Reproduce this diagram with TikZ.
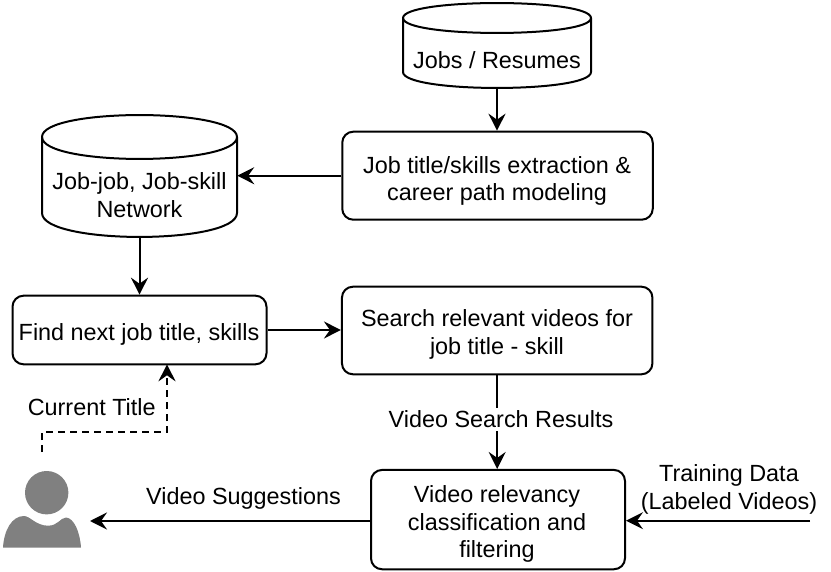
\documentclass[tikz,border=0pt]{standalone}
\usepackage{fontspec}
\setmainfont{Liberation Sans}
\usetikzlibrary{arrows.meta}
\definecolor{persongray}{RGB}{128,128,128}
\tikzset{
  x=1pt,y=-1pt,
  every node/.style={font=\fontsize{23.4}{27.4}\selectfont,text=black,align=center,inner sep=0pt},
  flowbox/.style={draw,line width=2pt,rounded corners=11pt,fill=white},
  cylbody/.style={draw,line width=2pt,fill=white},
  link/.style={line width=2pt,-{Stealth[length=17pt,width=17pt,inset=6pt]}},
}
% Database drum: left, right, top, ellipse centre, side end, bottom
\newcommand{\drum}[6]{%
  \path[cylbody] (#1,#4) .. controls (#1,{#4-(#4-#3)*1.33}) and (#2,{#4-(#4-#3)*1.33}) .. (#2,#4)
    -- (#2,#5) .. controls (#2,{#5+(#6-#5)*1.33}) and (#1,{#5+(#6-#5)*1.33}) .. (#1,#5) -- cycle;
  \draw[line width=2pt] (#1,#4) .. controls (#1,{#4+(#4-#3)*1.33}) and (#2,{#4+(#4-#3)*1.33}) .. (#2,#4);
}
\begin{document}
\begin{tikzpicture}
\useasboundingbox (0,0) rectangle (831,572);

% Data stores
\drum{403}{591}{3}{18}{72}{88}
\node[minimum width=188pt,minimum height=85pt] (jobs) at (497,45.5) {};
\node (jobstext) at (497,60) {Jobs / Resumes};
\drum{42}{237}{115}{137}{213}{237}
\node[minimum width=195pt,minimum height=122pt] (network) at (139.5,176) {};
\node (networktext) at (139.5,195) {Job-job, Job-skill\\Network};

% Processing steps
\node[flowbox,minimum width=310.5pt,minimum height=88pt] (extract) at (497.5,175.7) {};
\node (extracttext) at (497,180.8) {Job title/skills extraction \&\\career path modeling};
\node[flowbox,minimum width=254pt,minimum height=68.6pt] (next) at (139.5,330) {};
\node (nexttext) at (139,334) {Find next job title, skills};
\node[flowbox,minimum width=310.5pt,minimum height=87.6pt] (search) at (497.2,330.5) {};
\node (searchtext) at (497,334.5) {Search relevant videos for\\job title - skill};
\node[flowbox,minimum width=254pt,minimum height=99.3pt] (classify) at (498,519.6) {};
\node (classifytext) at (497,524.2) {Video relevancy\\classification and\\filtering};

% User figure
\fill[persongray] (46.7,492.7) circle (21.7);
\fill[persongray] (3,547.7) .. controls (4,530) and (12,516) .. (24,516)
  .. controls (30,516) and (36,525.7) .. (48,525.7)
  .. controls (58,525.7) and (60,518) .. (66,517.5)
  .. controls (74,518) and (80,532) .. (81,547.7) -- cycle;
\node[minimum width=78pt,minimum height=78pt] (user) at (42,509) {};
\coordinate (userTop) at (42,452);
\coordinate (userRight) at (90,521);

% Free end of the training input
\coordinate (train) at (810,520.7);

% Connectors
\draw[link] (jobs.south) -- (extract.north -| jobs.south);
\draw[link] (extract.west) -- (network.east |- extract.west);
\draw[link] (network.south) -- (next.north -| network.south);
\draw[link] (next.east) -- (search.west |- next.east);
\draw[link] (search.south) -- (search.south |- classify.north);
\draw[link] (classify.west |- userRight) -- (userRight);
\draw[link] (train) -- (classify.east |- train);
\draw[link,dash pattern=on 7pt off 5pt] (userTop) -- (42,432) -- (167,432) -- (167,364.3);

% Labels
\node (ltitle) at (91.7,407.5) {Current Title};
\node[fill=white,inner ysep=3pt] (lresults) at (501,419.2) {Video Search Results};
\node (lsuggest) at (243.5,498) {Video Suggestions};
\node (ltrain) at (729,489.4) {Training Data\\(Labeled Videos)};
\end{tikzpicture}
\end{document}
